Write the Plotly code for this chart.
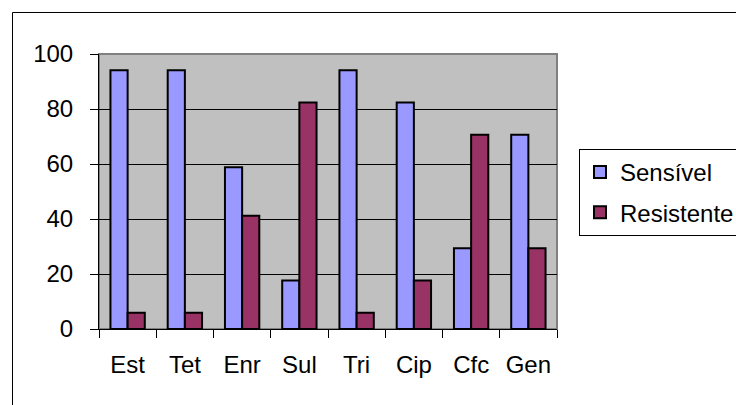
import plotly.graph_objects as go

categories = ["Est", "Tet", "Enr", "Sul", "Tri", "Cip", "Cfc", "Gen"]
sensivel = [94.1, 94.1, 58.8, 17.6, 94.1, 82.4, 29.4, 70.6]
resistente = [5.9, 5.9, 41.2, 82.4, 5.9, 17.6, 70.6, 29.4]
y_ticks = [0, 20, 40, 60, 80, 100]

W, H = 736, 405
L, R, T, B = 99, 179, 54, 76
pw, ph = W - L - R, H - T - B

def px_to_paper_x(px):
    return (px - L) / pw

def px_to_paper_y(py):
    return (H - B - py) / ph

fig = go.Figure()
fig.add_trace(go.Bar(x=categories, y=sensivel, name="Sensível", legendgroup="a",
                     marker=dict(color="#9999FF", line=dict(color="black", width=2))))
fig.add_trace(go.Bar(x=categories, y=resistente, name="Resistente", legendgroup="b",
                     marker=dict(color="#993366", line=dict(color="black", width=2))))

font = dict(family="Liberation Sans, Arial, sans-serif", size=24, color="black")

fig.update_layout(
    width=W, height=H,
    margin=dict(l=L, r=R, t=T, b=B, autoexpand=False),
    paper_bgcolor="white",
    plot_bgcolor="#C0C0C0",
    font=font,
    barmode="group",
    bargap=0.4,
    bargroupgap=0,
    showlegend=True,
    legend=dict(
        x=px_to_paper_x(579), y=px_to_paper_y(149),
        xanchor="left", yanchor="top",
        bgcolor="white", bordercolor="black", borderwidth=1,
        font=font, tracegroupgap=6, itemwidth=30,
    ),
    xaxis=dict(
        type="category", tickson="boundaries", ticks="outside", ticklen=8,
        tickcolor="black", showline=True, linecolor="black", linewidth=1,
        showgrid=False, tickfont=font, ticklabelstandoff=14,
    ),
    yaxis=dict(
        range=[0, 100], tickvals=y_ticks, ticktext=[str(v) for v in y_ticks],
        ticks="outside", ticklen=8, tickcolor="black",
        showline=True, linecolor="black", linewidth=1,
        showgrid=True, gridcolor="black", gridwidth=1,
        zeroline=False, tickfont=font, ticklabelstandoff=12,
    ),
    shapes=[
        dict(type="rect", xref="paper", yref="paper", x0=0, x1=1, y0=0, y1=1,
             line=dict(color="#808080", width=2), layer="below"),
        dict(type="line", xref="paper", yref="paper",
             x0=px_to_paper_x(12.5), x1=px_to_paper_x(745),
             y0=px_to_paper_y(12.5), y1=px_to_paper_y(12.5),
             line=dict(color="black", width=1)),
        dict(type="line", xref="paper", yref="paper",
             x0=px_to_paper_x(12.5), x1=px_to_paper_x(12.5),
             y0=px_to_paper_y(12.5), y1=px_to_paper_y(420),
             line=dict(color="black", width=1)),
    ],
)

fig.write_html("out.html", config={"displayModeBar": False},
               post_script="document.body.style.margin='0';")
